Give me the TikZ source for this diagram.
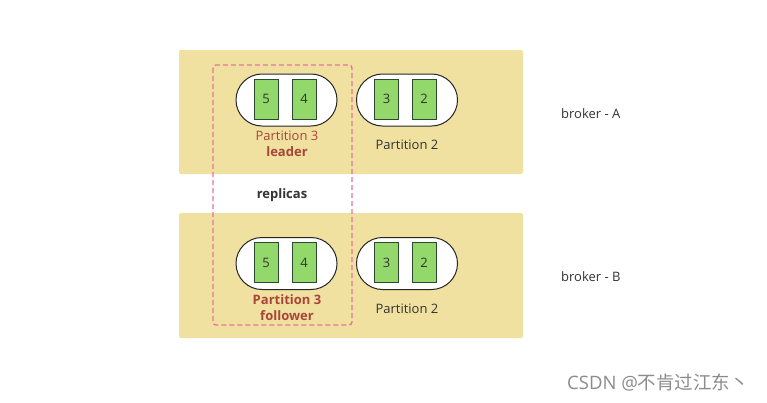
\documentclass[tikz,border=0pt]{standalone}
\usepackage{fontspec}
\setmainfont{Open Sans}
\newfontfamily\cjk{Noto Sans CJK SC}
\usetikzlibrary{shapes.misc}
\definecolor{brokerbg}{HTML}{F0E1A0}
\definecolor{msgfill}{HTML}{93D86A}
\definecolor{msgline}{HTML}{2E4A2E}
\definecolor{pinkdash}{HTML}{E8739F}
\definecolor{ptred}{HTML}{A8453A}
\definecolor{txtgray}{HTML}{333333}
\tikzset{
  broker/.style={fill=brokerbg, draw=none, rounded corners=2pt},
  capsule/.style={rounded rectangle, draw=black!85, fill=white, line width=1pt, minimum width=101pt, minimum height=52pt, inner sep=0pt},
  msg/.style={draw=msgline, fill=msgfill, line width=1pt, minimum width=24pt, minimum height=40pt, inner sep=0pt, font=\fontsize{13}{15}\selectfont, text=txtgray},
  lbl/.style={font=\fontsize{13}{15}\selectfont, text=txtgray, inner sep=0pt},
  redlbl/.style={font=\fontsize{13}{15}\selectfont, text=ptred, inner sep=0pt},
  boldred/.style={font=\fontsize{13}{15}\selectfont\bfseries, text=ptred, inner sep=0pt},
}
\begin{document}
\begin{tikzpicture}[x=1pt,y=-1pt]
\useasboundingbox[fill=white] (0,0) rectangle (767,402);
% brokers
\node[broker, minimum width=344pt, minimum height=124pt, inner sep=0pt] (brA) at (351,112) {};
\node[broker, minimum width=344pt, minimum height=125pt, inner sep=0pt] (brB) at (351,275.5) {};
% capsules top
\node[capsule] (capA3) at (286.5,100) {};
\node[capsule] (capA2) at (407,100) {};
\node[msg] (a5) at (266,99) {5};
\node[msg] (a4) at (304,99) {4};
\node[msg] (a3) at (386.5,99) {3};
\node[msg] (a2) at (424,99) {2};
% capsules bottom
\node[capsule] (capB3) at (286.5,263.5) {};
\node[capsule] (capB2) at (407,263.5) {};
\node[msg] (b5) at (266,262.5) {5};
\node[msg] (b4) at (304,262.5) {4};
\node[msg] (b3) at (386.5,262.5) {3};
\node[msg] (b2) at (424,262.5) {2};
% labels
\node[redlbl] (pA3) at (287,136) {Partition 3};
\node[boldred] (leader) at (287,152) {leader};
\node[lbl] (pA2) at (407,145) {Partition 2};
\node[boldred] (pB3) at (287,300) {Partition 3};
\node[boldred] (follower) at (287,316) {follower};
\node[lbl] (pB2) at (407,309) {Partition 2};
\node[lbl, font=\fontsize{13}{15}\selectfont\bfseries] (replicas) at (282,195) {replicas};
% dashed replicas box
\draw[pinkdash, line width=1.4pt, dash pattern=on 5pt off 3pt, rounded corners=3pt] (213,65) rectangle (352,325);
% broker names
\node[lbl, anchor=west] (nA) at (561,114) {broker - A};
\node[lbl, anchor=west] (nB) at (561,277) {broker - B};
% watermark
\node[anchor=west, inner sep=0pt, text=black!45, font=\fontsize{18.5}{20}\selectfont] (wm) at (567,383) {CSDN @{\cjk 不肯过江东丶}};
\end{tikzpicture}
\end{document}
